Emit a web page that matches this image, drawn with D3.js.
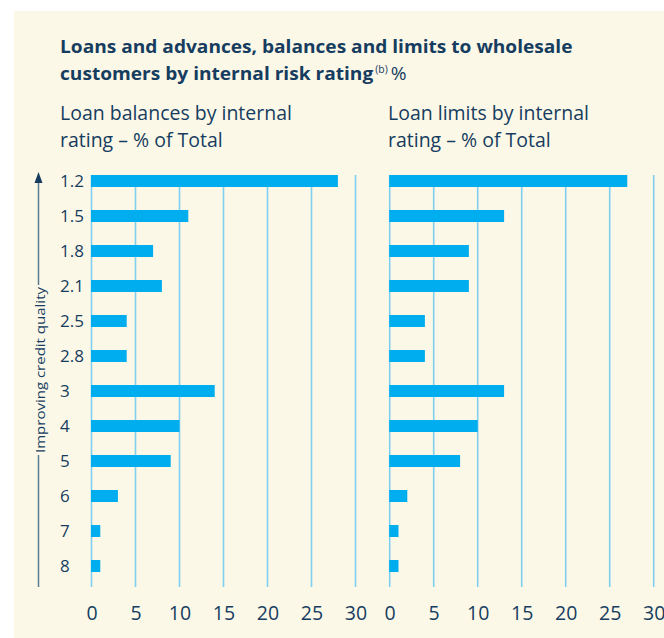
<!DOCTYPE html>
<html>
<head>
<meta charset="utf-8">
<script src="https://cdn.jsdelivr.net/npm/d3@7"></script>
<style>
  html, body { margin: 0; padding: 0; background: #ffffff; }
  svg { display: block; }
</style>
</head>
<body>
<svg id="chart" width="664" height="638"></svg>
<script>
// ---- DATA ----
const ratings = ["1.2", "1.5", "1.8", "2.1", "2.5", "2.8", "3", "4", "5", "6", "7", "8"];
const balances = [28, 11, 7, 8, 4, 4, 14, 10, 9, 3, 1, 1];
const limits = [27, 13, 9, 9, 4, 4, 13, 10, 8, 2, 1, 1];
const xTicks = [0, 5, 10, 15, 20, 25, 30];
const titleLines = ["Loans and advances, balances and limits to wholesale", "customers by internal risk rating"];
const panelTitles = [
  ["Loan balances by internal", "rating \u2013 % of Total"],
  ["Loan limits by internal", "rating \u2013 % of Total"]
];
const yAxisLabel = "Improving credit quality";

// ---- STYLE ----
const navy = "#163d5f";
const barColor = "#00aeef";
const gridColor = "#7fd0ef";
const cream = "#fcf8e8";
const font = "'Open Sans', 'Noto Sans', sans-serif";

const svg = d3.select("#chart");

svg.append("rect").attr("x", 14).attr("y", 11).attr("width", 664 - 14).attr("height", 638 - 11).attr("fill", cream);

// horizontal squeeze helper: scale a group so that a reference text reaches target width
function squeeze(g, refText, target, x0) {
  const w = refText.node().getComputedTextLength();
  g.attr("transform", `translate(${x0},0) scale(${target / w},1)`);
}

// Title
const tg = svg.append("g");
const t1 = tg.append("text").attr("x", 0).attr("y", 53).attr("font-family", font)
  .attr("font-weight", 700).attr("font-size", 18.5).attr("fill", navy).text(titleLines[0]);
const t2 = tg.append("text").attr("x", 0).attr("y", 80).attr("font-family", font)
  .attr("font-weight", 700).attr("font-size", 18.5).attr("fill", navy);
t2.append("tspan").text(titleLines[1]);
t2.append("tspan").attr("font-weight", 400).attr("font-size", 10).attr("dy", -7).attr("dx", 2).text("(b)");
t2.append("tspan").attr("font-weight", 400).attr("font-size", 18.5).attr("dy", 7).attr("dx", 3).text("%");
squeeze(tg, t1, 513, 60);

// Panels
const y = d3.scaleBand().domain(ratings).range([163.5, 583.5]).paddingInner(23 / 35).paddingOuter(23 / 70);
const gridTop = 175, gridBottom = 587;

const panels = [
  { x0: 91.5, values: balances, titleX: 60 },
  { x0: 389.7, values: limits, titleX: 388 }
];

let subScale = null;
panels.forEach((p, i) => {
  const x = d3.scaleLinear().domain([0, 30]).range([p.x0, p.x0 + 264]);
  const g = svg.append("g");

  // panel titles
  const sg = g.append("g");
  let first = null;
  panelTitles[i].forEach((line, j) => {
    const t = sg.append("text").attr("x", 0).attr("y", 120 + j * 27).attr("font-family", font)
      .attr("font-weight", 400).attr("font-size", 19.5).attr("fill", navy).text(line);
    if (!first) first = t;
  });
  if (subScale === null) subScale = 232 / first.node().getComputedTextLength();
  sg.attr("transform", `translate(${p.titleX},0) scale(${subScale},1)`);

  // gridlines
  g.selectAll("line.grid").data(xTicks).join("line")
    .attr("class", "grid")
    .attr("x1", d => x(d)).attr("x2", d => x(d))
    .attr("y1", gridTop).attr("y2", gridBottom)
    .attr("stroke", gridColor).attr("stroke-width", 1.6);

  // bars
  g.selectAll("rect.bar").data(p.values).join("rect")
    .attr("class", "bar")
    .attr("x", x(0) - 0.5)
    .attr("y", (d, k) => y(ratings[k]))
    .attr("width", d => x(d) - x(0) + 0.5)
    .attr("height", y.bandwidth())
    .attr("fill", barColor);

  // x axis tick labels
  const ax = d3.axisBottom(x).tickValues(xTicks).tickSize(0).tickPadding(0);
  const axg = g.append("g").attr("transform", `translate(0, 620)`).call(ax);
  axg.select(".domain").remove();
  axg.selectAll("text").attr("font-family", font).attr("font-size", 19.5)
    .attr("fill", navy).attr("dy", 0).attr("y", 0);
});

// y labels (left-aligned)
const yAx = d3.axisLeft(y).tickSize(0).tickPadding(0);
const yg = svg.append("g").attr("transform", "translate(60,0)").call(yAx);
yg.select(".domain").remove();
yg.selectAll("text").attr("text-anchor", "start").attr("x", 0)
  .attr("font-family", font).attr("font-size", 17).attr("fill", navy).attr("dy", "0.36em");

// y axis arrow + label
const axisCol = "#5b7d93";
svg.append("line").attr("x1", 38.5).attr("x2", 38.5).attr("y1", 285).attr("y2", 182)
  .attr("stroke", axisCol).attr("stroke-width", 1.5);
svg.append("path").attr("d", "M34.5,183 L38.5,172 L42.5,183 Z").attr("fill", navy);
svg.append("line").attr("x1", 38.5).attr("x2", 38.5).attr("y1", 455).attr("y2", 587)
  .attr("stroke", axisCol).attr("stroke-width", 1.5);
svg.append("text").attr("transform", "translate(39.5,370) rotate(-90)")
  .attr("text-anchor", "middle").attr("dominant-baseline", "central")
  .attr("font-family", font).attr("font-size", 13.5).attr("fill", navy)
  .attr("textLength", 166).attr("lengthAdjust", "spacingAndGlyphs").text(yAxisLabel);
</script>
</body>
</html>
